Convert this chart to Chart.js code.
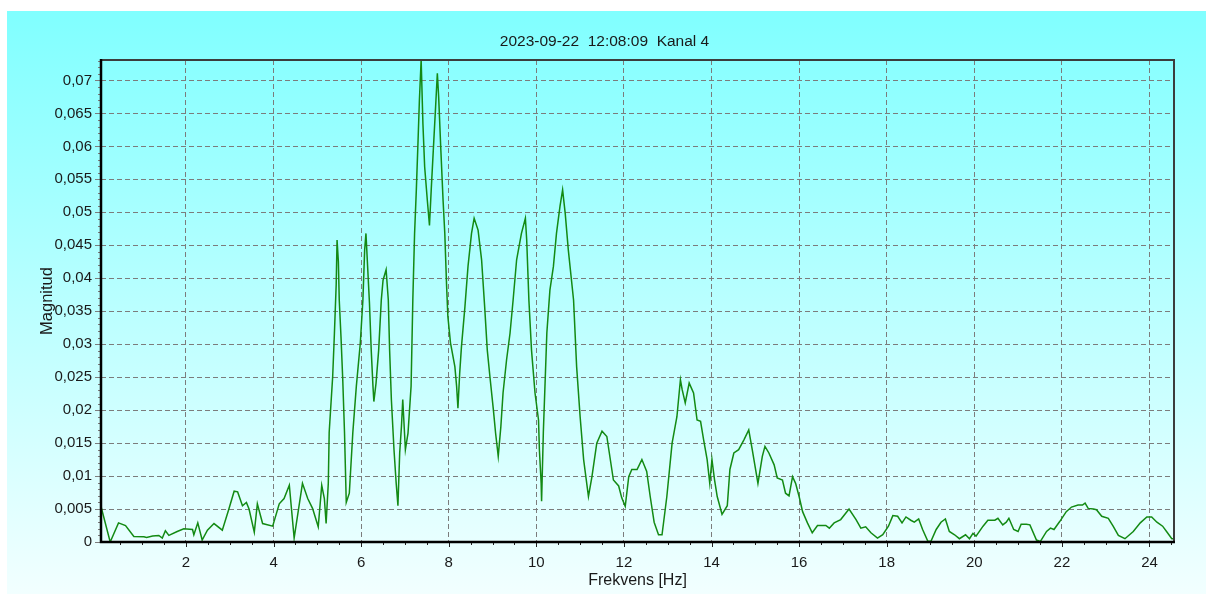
<!DOCTYPE html>
<html>
<head>
<meta charset="utf-8">
<script src="https://cdn.jsdelivr.net/npm/chart.js@4.4.0/dist/chart.umd.min.js"></script>
<style>
html,body{margin:0;padding:0;background:#fff;overflow:hidden;}
canvas{display:block;}
</style>
</head>
<body>
<canvas id="c" width="1206" height="594"></canvas>
<script>
// ---- data ----
const freqHz = [0.06,0.27,0.46,0.62,0.81,1.04,1.10,1.24,1.38,1.46,
1.53,1.61,1.80,1.95,2.15,2.18,2.27,2.37,2.49,2.64,
2.83,2.98,3.10,3.18,3.29,3.38,3.44,3.56,3.63,3.75,
3.98,4.13,4.24,4.36,4.47,4.66,4.78,4.89,5.02,5.10,
5.16,5.20,5.25,5.27,5.35,5.39,5.43,5.45,5.48,5.50,
5.54,5.58,5.62,5.66,5.73,5.81,5.89,5.98,6.04,6.08,
6.11,6.14,6.19,6.23,6.27,6.29,6.34,6.40,6.46,6.50,
6.57,6.62,6.65,6.69,6.75,6.80,6.84,6.88,6.92,6.95,
7.01,7.07,7.14,7.18,7.22,7.26,7.30,7.33,7.37,7.41,
7.45,7.51,7.56,7.60,7.66,7.70,7.74,7.77,7.82,7.87,
7.91,7.95,7.98,8.04,8.14,8.18,8.21,8.25,8.29,8.37,
8.44,8.52,8.58,8.67,8.75,8.82,8.88,8.94,9.02,9.07,
9.13,9.19,9.24,9.32,9.40,9.47,9.55,9.66,9.75,9.78,
9.83,9.89,9.97,10.05,10.07,10.11,10.12,10.16,10.24,10.31,
10.39,10.46,10.54,10.60,10.66,10.73,10.85,10.92,11.00,11.08,
11.19,11.27,11.38,11.50,11.61,11.76,11.88,11.95,12.03,12.11,
12.18,12.30,12.41,12.52,12.60,12.69,12.79,12.87,12.98,13.10,
13.21,13.29,13.33,13.40,13.49,13.59,13.67,13.75,13.82,13.90,
13.96,14.01,14.07,14.13,14.24,14.36,14.42,14.51,14.62,14.74,
14.85,14.93,15.06,15.16,15.22,15.31,15.43,15.50,15.62,15.69,
15.77,15.85,15.92,16.00,16.08,16.19,16.30,16.42,16.61,16.69,
16.80,16.95,17.14,17.30,17.41,17.52,17.64,17.79,17.91,18.04,
18.14,18.25,18.35,18.44,18.55,18.63,18.73,18.82,18.94,19.01,
19.13,19.24,19.34,19.43,19.55,19.66,19.80,19.89,19.97,20.04,
20.20,20.31,20.47,20.54,20.65,20.73,20.79,20.90,21.00,21.07,
21.19,21.27,21.42,21.51,21.65,21.74,21.82,21.95,22.10,22.22,
22.37,22.47,22.53,22.60,22.72,22.79,22.91,23.06,23.17,23.29,
23.44,23.63,23.79,23.94,24.05,24.17,24.30,24.39,24.51,24.56];

const magnitude = [0.0054,0.0000,0.0029,0.0025,0.00085,0.0008,0.0007,0.0009,0.0010,0.0006,
0.0017,0.0010,0.0016,0.0020,0.0019,0.0011,0.0029,0.0003,0.0018,0.0028,
0.0018,0.0050,0.0077,0.0076,0.0055,0.0060,0.0050,0.0015,0.0058,0.0028,
0.0024,0.0058,0.0066,0.0086,0.0006,0.0089,0.0066,0.0051,0.0023,0.0086,
0.0066,0.0028,0.0089,0.0166,0.0251,0.0317,0.0390,0.0458,0.0425,0.0367,
0.0311,0.0246,0.0166,0.0060,0.0074,0.0166,0.0236,0.0301,0.0367,0.0443,
0.0468,0.0428,0.0362,0.0291,0.0236,0.0213,0.0241,0.0291,0.0367,0.0397,
0.0413,0.0367,0.0291,0.0216,0.0140,0.0089,0.0055,0.0135,0.0175,0.0216,
0.0140,0.0165,0.0236,0.0367,0.0468,0.0534,0.0610,0.0670,0.0731,0.0635,
0.0569,0.0519,0.0480,0.0534,0.0610,0.0660,0.0711,0.0675,0.0594,0.0519,
0.0468,0.0390,0.0342,0.0302,0.0266,0.0236,0.0203,0.0256,0.0296,0.0357,
0.0418,0.0468,0.0491,0.0473,0.0428,0.0357,0.0291,0.0251,0.0200,0.0165,
0.0130,0.0175,0.0226,0.0276,0.0317,0.0367,0.0428,0.0468,0.0491,0.0458,
0.0367,0.0291,0.0226,0.0185,0.0140,0.0089,0.0062,0.0166,0.0317,0.0382,
0.0418,0.0468,0.0509,0.0534,0.0498,0.0443,0.0367,0.0266,0.0190,0.0125,
0.0069,0.0099,0.0150,0.0168,0.0160,0.0094,0.0085,0.0067,0.0054,0.0099,
0.0110,0.0110,0.0125,0.0107,0.0069,0.0030,0.0011,0.0011,0.0069,0.0150,
0.0190,0.0246,0.0231,0.0211,0.0241,0.0226,0.0185,0.0183,0.0155,0.0125,
0.0089,0.0125,0.0094,0.0069,0.0042,0.0055,0.0110,0.0135,0.0140,0.0155,
0.0170,0.0140,0.0089,0.0130,0.0145,0.0135,0.0117,0.0097,0.0094,0.0074,
0.0070,0.0099,0.0089,0.0069,0.0046,0.0029,0.0014,0.0025,0.0025,0.0021,
0.0029,0.0034,0.0050,0.0034,0.0021,0.0023,0.0014,0.0006,0.0011,0.0024,
0.0040,0.0039,0.0029,0.0038,0.0033,0.0030,0.0035,0.0019,0.0001,0.0001,
0.0019,0.0030,0.0035,0.0016,0.0011,0.0005,0.0011,0.0005,0.0013,0.0009,
0.0024,0.0033,0.0033,0.0036,0.0026,0.0030,0.0036,0.0019,0.0016,0.0027,
0.0027,0.0026,0.0003,0.0001,0.0016,0.0021,0.0019,0.0031,0.0046,0.0053,
0.0056,0.0056,0.0059,0.0051,0.0050,0.0049,0.0039,0.0036,0.0024,0.0010,
0.0005,0.0016,0.0029,0.0038,0.0038,0.0030,0.0024,0.0016,0.0005,0.0005];

const xTickValues = [2,4,6,8,10,12,14,16,18,20,22,24];
const yTickValues = [0,0.005,0.01,0.015,0.02,0.025,0.03,0.035,0.04,0.045,0.05,0.055,0.06,0.065,0.07];
const xRange = [0.06, 24.56];
const yRange = [0, 0.0731];
const xMinorStep = 0.5;
const yMinorStep = 0.001;

const chartTitle = '2023-09-22  12:08:09  Kanal 4';
const xAxisTitle = 'Frekvens [Hz]';
const yAxisTitle = 'Magnitud';

// ---- styles ----
const FONT = '"Liberation Sans", Arial, sans-serif';
const TEXT = '#1a1a1a';
const GRID = '#7c7c7c';

function fmtComma(v){
  let s = (+v.toFixed(4)).toString();
  return s.replace('.', ',');
}

const bgPlugin = {
  id: 'bg',
  beforeDraw(chart){
    const ctx = chart.ctx;
    ctx.save();
    ctx.fillStyle = '#ffffff';
    ctx.fillRect(0,0,chart.width,chart.height);
    const g = ctx.createLinearGradient(0, 11, 0, chart.height);
    g.addColorStop(0, '#80ffff');
    g.addColorStop(1, '#f2ffff');
    ctx.fillStyle = g;
    ctx.fillRect(7, 11, chart.width-7, chart.height-11);
    ctx.font = '15.5px ' + FONT;
    ctx.fillStyle = TEXT;
    ctx.textAlign = 'center';
    ctx.textBaseline = 'middle';
    ctx.fillText(chartTitle, 604.5, 42);
    ctx.restore();
  }
};

const framePlugin = {
  id: 'frame',
  afterDraw(chart){
    const {ctx, chartArea: a, scales: {x, y}} = chart;
    ctx.save();
    ctx.lineWidth = 1;
    // y minor ticks
    ctx.strokeStyle = GRID;
    const nY = Math.floor(yRange[1]/yMinorStep + 1e-6);
    for (let i = 0; i <= nY; i++) {
      const py = Math.round(y.getPixelForValue(i*yMinorStep)) + 0.5;
      ctx.beginPath(); ctx.moveTo(a.left-3, py); ctx.lineTo(a.left, py); ctx.stroke();
    }
    yTickValues.forEach(v => {
      const py = Math.round(y.getPixelForValue(v)) + 0.5;
      ctx.beginPath(); ctx.moveTo(a.left-6, py); ctx.lineTo(a.left, py); ctx.stroke();
    });
    // x minor ticks
    ctx.strokeStyle = '#222';
    for (let i = 1; i*xMinorStep <= xRange[1]; i++) {
      const px = Math.round(x.getPixelForValue(i*xMinorStep)) + 0.5;
      ctx.beginPath(); ctx.moveTo(px, a.bottom); ctx.lineTo(px, a.bottom+3); ctx.stroke();
    }
    xTickValues.forEach(v => {
      const px = Math.round(x.getPixelForValue(v)) + 0.5;
      ctx.beginPath(); ctx.moveTo(px, a.bottom); ctx.lineTo(px, a.bottom+5); ctx.stroke();
    });
    // frame
    ctx.strokeStyle = '#3c3c3c';
    ctx.lineWidth = 2;
    ctx.beginPath();
    ctx.moveTo(a.left, a.top); ctx.lineTo(a.right, a.top); ctx.lineTo(a.right, a.bottom);
    ctx.stroke();
    ctx.strokeStyle = '#000';
    ctx.lineWidth = 2.5;
    ctx.beginPath();
    ctx.moveTo(a.left, a.top-1); ctx.lineTo(a.left, a.bottom); ctx.lineTo(a.right+1, a.bottom);
    ctx.stroke();
    ctx.restore();
  }
};

const points = freqHz.map((f, i) => ({x: f, y: magnitude[i]}));

new Chart(document.getElementById('c'), {
  type: 'line',
  data: {
    datasets: [{
      data: points,
      borderColor: '#138a13',
      borderWidth: 1.5,
      pointRadius: 0,
      tension: 0,
      fill: false
    }]
  },
  options: {
    responsive: false,
    animation: false,
    devicePixelRatio: 1,
    layout: {padding: {left: 7, top: 60, right: 32, bottom: 0}},
    plugins: {legend: {display: false}, title: {display: false}, tooltip: {enabled: false}},
    scales: {
      x: {
        type: 'linear',
        min: xRange[0], max: xRange[1],
        afterBuildTicks: s => { s.ticks = xTickValues.map(v => ({value: v})); },
        afterFit: s => { s.height = 52; },
        grid: {color: GRID, lineWidth: 1, drawTicks: false},
        border: {display: false, dash: [5, 3]},
        ticks: {color: TEXT, font: {family: FONT, size: 15}, padding: 12, maxRotation: 0, autoSkip: false,
                callback: v => String(v)},
        title: {display: true, text: xAxisTitle, color: TEXT, font: {family: FONT, size: 16}, padding: {top: 0, bottom: 4}}
      },
      y: {
        type: 'linear',
        min: yRange[0], max: yRange[1],
        afterBuildTicks: s => { s.ticks = yTickValues.map(v => ({value: v})); },
        afterFit: s => { s.width = 94; },
        grid: {color: GRID, lineWidth: 1, drawTicks: false},
        border: {display: false, dash: [5, 3]},
        ticks: {color: TEXT, font: {family: FONT, size: 15}, padding: 9, autoSkip: false,
                callback: v => fmtComma(v)},
        title: {display: true, text: yAxisTitle, color: TEXT, font: {family: FONT, size: 16.5}, padding: {top: 31, bottom: 0}}
      }
    }
  },
  plugins: [bgPlugin, framePlugin]
});
</script>
</body>
</html>
